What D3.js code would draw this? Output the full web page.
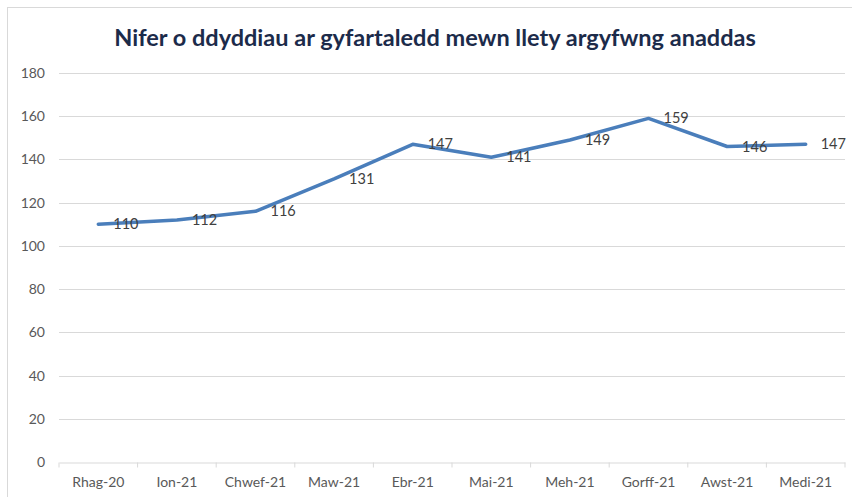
<!DOCTYPE html>
<html>
<head>
<meta charset="utf-8">
<script src="https://cdn.jsdelivr.net/npm/d3@7"></script>
<style>
  body { margin: 0; background: #fff; }
  svg { display: block; }
</style>
</head>
<body>
<script>
const title = "Nifer o ddyddiau ar gyfartaledd mewn llety argyfwng anaddas";
const months = ["Rhag-20", "Ion-21", "Chwef-21", "Maw-21", "Ebr-21", "Mai-21", "Meh-21", "Gorff-21", "Awst-21", "Medi-21"];
const days = [110, 112, 116, 131, 147, 141, 149, 159, 146, 147];
const yTicks = [0, 20, 40, 60, 80, 100, 120, 140, 160, 180];

const width = 852, height = 497;
const margin = {top: 73, right: 7, bottom: 35, left: 59};
const font = "Lato, 'Open Sans', sans-serif";

const svg = d3.select("body").append("svg")
    .attr("width", width)
    .attr("height", height);

// chart frame (only top and left visible in the crop)
svg.append("rect")
    .attr("x", 7.5).attr("y", 7.5)
    .attr("width", width + 20).attr("height", height + 20)
    .attr("fill", "#fff")
    .attr("stroke", "#d9d9d9");

svg.append("text")
    .attr("x", 435).attr("y", 46)
    .attr("text-anchor", "middle")
    .attr("font-family", font)
    .attr("font-weight", "bold")
    .attr("font-size", 23.5)
    .attr("fill", "#1c2b4a")
    .text(title);

const x = d3.scaleBand()
    .domain(months)
    .range([margin.left, width - margin.right]);

const y = d3.scaleLinear()
    .domain([0, 180])
    .range([height - margin.bottom, margin.top]);

// gridlines
svg.append("g")
  .selectAll("line")
  .data(yTicks.slice(1))
  .join("line")
    .attr("x1", margin.left).attr("x2", width - margin.right)
    .attr("y1", d => Math.round(y(d)) + 0.5)
    .attr("y2", d => Math.round(y(d)) + 0.5)
    .attr("stroke", "#d9d9d9")
    .attr("stroke-width", 1);

// y axis labels
svg.append("g")
    .attr("transform", `translate(${margin.left},0)`)
    .call(d3.axisLeft(y).tickValues(yTicks).tickSize(0).tickPadding(14))
    .call(g => g.select(".domain").remove())
    .call(g => g.selectAll("text")
        .attr("font-family", font)
        .attr("font-size", 14)
        .attr("fill", "#595959"));

// x axis
const xAxis = svg.append("g")
    .attr("transform", `translate(0,${Math.round(y(0)) + 0.5})`)
    .call(d3.axisBottom(x).tickSize(0).tickPadding(15));
xAxis.select(".domain").attr("stroke", "#d9d9d9");
xAxis.selectAll("text")
    .attr("font-family", font)
    .attr("font-size", 14)
    .attr("fill", "#595959");
xAxis.append("g")
  .selectAll("line")
  .data(months.concat([null]))
  .join("line")
    .attr("x1", (d, i) => margin.left + i * x.step())
    .attr("x2", (d, i) => margin.left + i * x.step())
    .attr("y1", 0).attr("y2", 5)
    .attr("stroke", "#d9d9d9");

const cx = d => x(d) + x.bandwidth() / 2;

svg.append("path")
    .datum(days)
    .attr("fill", "none")
    .attr("stroke", "#4a7ebb")
    .attr("stroke-width", 3.5)
    .attr("stroke-linecap", "round")
    .attr("stroke-linejoin", "round")
    .attr("d", d3.line()
        .x((d, i) => cx(months[i]))
        .y(d => y(d)));

svg.append("g")
  .selectAll("text")
  .data(days)
  .join("text")
    .attr("x", (d, i) => cx(months[i]) + 15)
    .attr("y", d => y(d))
    .attr("dy", "0.35em")
    .attr("font-family", font)
    .attr("font-size", 14.5)
    .attr("fill", "#404040")
    .text(d => d);
</script>
</body>
</html>
